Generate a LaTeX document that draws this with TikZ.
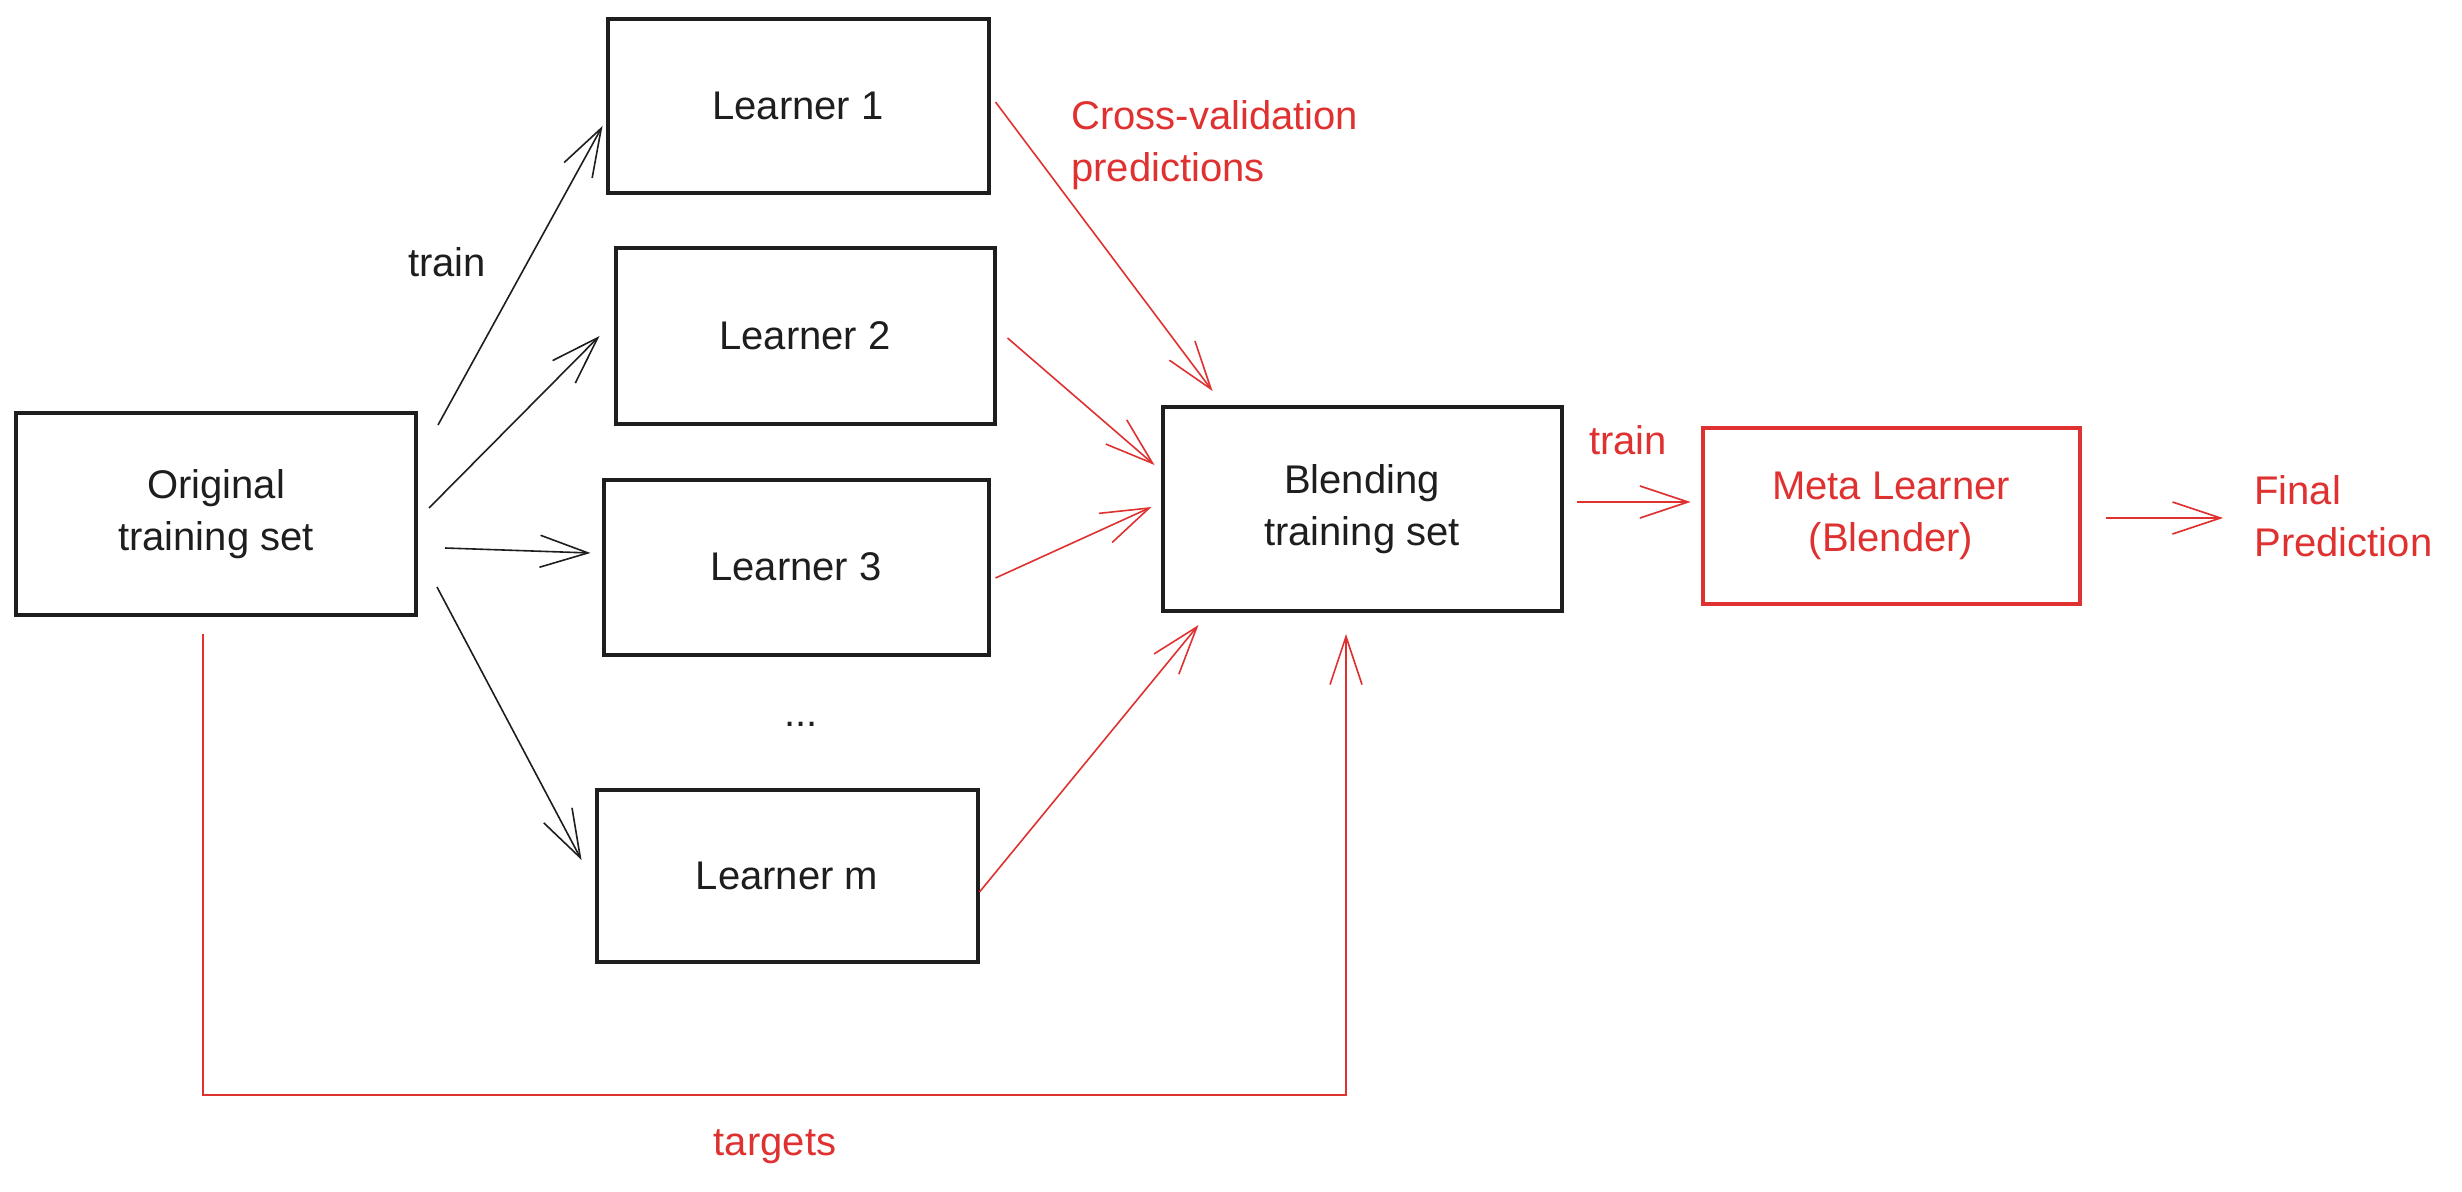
\documentclass[tikz,border=0pt]{standalone}
\usepackage{fontspec}
\setmainfont{Liberation Sans}
\usetikzlibrary{arrows.meta,calc}
\definecolor{ink}{HTML}{1E1E1E}
\definecolor{redink}{HTML}{E03131}
\begin{document}
\begin{tikzpicture}[x=0.5pt,y=-0.5pt,
  txt/.style={inner sep=0pt, font=\fontsize{20}{26}\selectfont, align=center, text=ink},
  box/.style={txt, draw=ink, line width=2pt, rectangle},
  redbox/.style={box, draw=redink, text=redink},
  redtxt/.style={txt, text=redink},
  arr/.style={draw=ink, line width=0.8pt, -{Straight Barb[length=24pt,width=16pt,line width=0.8pt]}},
  rarr/.style={arr, draw=redink},
]
\fill[white] (0,0) rectangle (2462,1192);
\useasboundingbox (0,0) rectangle (2462,1192);

% boxes
\node[box, minimum width=200pt, minimum height=101pt] (orig) at (216,514) {Original\\training set};
\node[box, minimum width=190.5pt, minimum height=87pt] (l1) at (798,106) {Learner 1};
\node[box, minimum width=189.5pt, minimum height=88pt] (l2) at (805,336) {Learner 2};
\node[box, minimum width=192.5pt, minimum height=87.5pt] (l3) at (796,567) {Learner 3};
\node[box, minimum width=190.5pt, minimum height=86pt] (lm) at (787,876) {Learner m};
\node[txt] (dots) at (801,724) {...};
\node[box, minimum width=199.5pt, minimum height=102pt] (blend) at (1362,509) {Blending\\training set};
\node[redbox, minimum width=188.5pt, minimum height=87.5pt] (meta) at (1891,516) {Meta Learner\\(Blender)};

% labels
\node[txt] (trainA) at (447,262) {train};
\node[redtxt, align=left, anchor=north west] (cv) at (1071,100) {Cross-validation\\predictions};
\node[redtxt] (trainB) at (1628,440) {train};
\node[redtxt, align=left, anchor=west] (final) at (2254,516) {Final\\Prediction};
\node[redtxt] (targets) at (775,1147) {targets};
\coordinate (tbase) at (0,1095);

% black arrows: original -> learners
\draw[arr] ($(orig.north east)+(20,14)$) -- ($(l1.west)+(-3,20)$);
\draw[arr] ($(orig.north east)+(11,97)$) -- ($(l2.west)+(-14,0)$);
\draw[arr] ($(orig.north east)+(27,137)$) -- ($(l3.west)+(-11,-14)$);
\draw[arr] ($(orig.north east)+(19,176)$) -- ($(lm.west)+(-13,-16)$);

% red arrows: learners -> blending set
\draw[rarr] ($(l1.east)+(5,-4)$) -- ($(blend.north west)+(52,-14)$);
\draw[rarr] ($(l2.east)+(11,2)$) -- ($(blend.west)+(-6,-44)$);
\draw[rarr] ($(l3.east)+(5,11)$) -- ($(blend.west)+(-9,-2)$);
\draw[rarr] ($(lm.east)+(0,16)$) -- ($(blend.south west)+(38,12)$);

% targets
\coordinate (ts) at ($(orig.south)+(-13,17)$);
\coordinate (te) at ($(blend.south)+(-16,21)$);
\draw[rarr] (ts) -- (ts |- tbase) -- (te |- tbase) -- (te);

% blend -> meta -> final
\draw[rarr] ($(blend.east)+(13,-7)$) -- ($(meta.west)+(-10,-14)$);
\draw[rarr] ($(meta.east)+(24,2)$) -- ($(final.west)+(-31,2)$);
\end{tikzpicture}
\end{document}
